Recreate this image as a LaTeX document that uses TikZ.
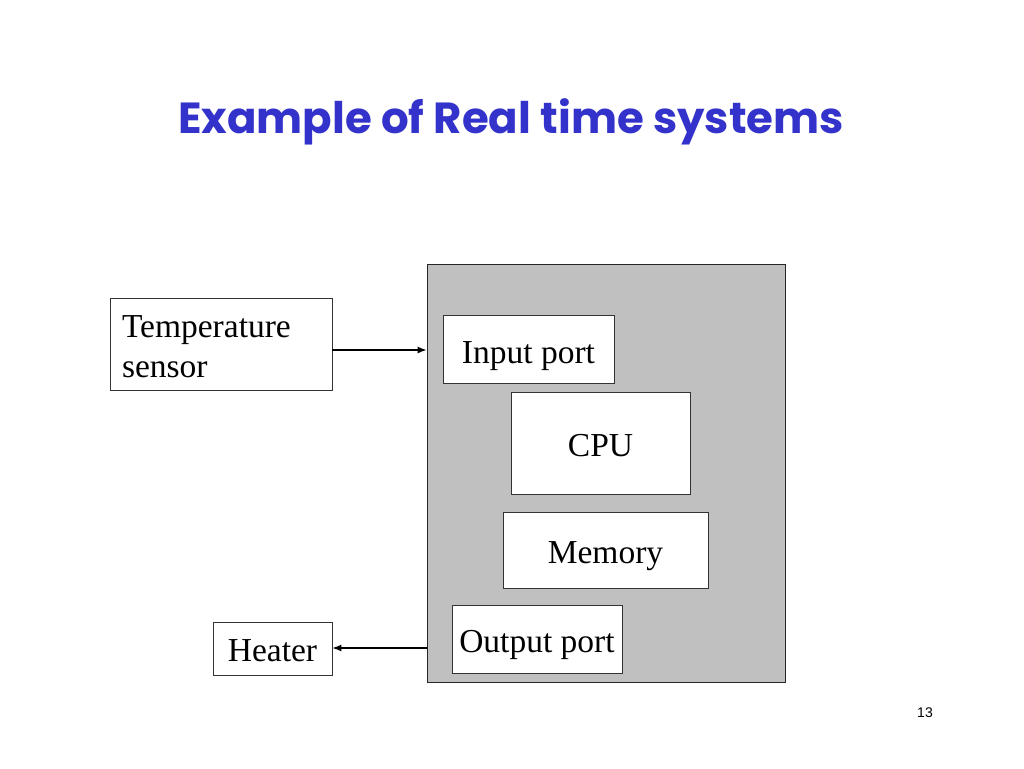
\documentclass[tikz,border=0pt]{standalone}
\usepackage{fontspec}
\setmainfont{Liberation Serif}
\newfontfamily\titlefont{Poppins}
\newfontfamily\numfont{Liberation Sans}
\usetikzlibrary{arrows.meta}
\definecolor{titleblue}{RGB}{51,51,204}
\definecolor{panelgray}{RGB}{192,192,192}
\newcommand{\lowertext}[2]{\raisebox{-#1}[\height][\depth]{#2}}
\tikzset{
  box/.style={draw=black!80, line width=0.9pt, fill=white, inner sep=0pt,
    font=\fontsize{33.5}{40}\selectfont},
  conn/.style={line width=1.1pt, -{Latex[length=9pt,width=7pt]}}
}
\begin{document}
\begin{tikzpicture}[x=1pt,y=-1pt]
\useasboundingbox (0,0) rectangle (1024,768);
\node[font=\titlefont\bfseries\fontsize{43.5}{52}\selectfont, text=titleblue] (title) at (511,122) {Example of Real time systems};
\node[draw=black!85, line width=0.9pt, fill=panelgray, minimum width=358pt, minimum height=418pt, inner sep=0pt] (panel) at (606,473) {};
\node[box, minimum width=222pt, minimum height=92pt] (sensor) at (221,344) {\lowertext{3pt}{\parbox{198pt}{Temperature\\sensor}}};
\node[box, minimum width=171pt, minimum height=68pt] (inport) at (528.5,349) {\lowertext{7pt}{Input port}};
\node[box, minimum width=179pt, minimum height=102pt] (cpu) at (600.5,443) {\lowertext{3pt}{CPU}};
\node[box, minimum width=205pt, minimum height=76pt] (mem) at (605.5,550) {\lowertext{6pt}{Memory}};
\node[box, minimum width=170pt, minimum height=68pt] (outport) at (537,639) {\lowertext{6pt}{Output port}};
\node[box, minimum width=119pt, minimum height=53pt] (heater) at (272.5,648.5) {\lowertext{2pt}{Heater}};
\node[font=\numfont\fontsize{14}{16}\selectfont] (page) at (925,713) {13};
\draw[conn] (sensor.east |- 0,350) -- (panel.west |- 0,350);
\draw[conn] (panel.west |- 0,648) -- (heater.east |- 0,648);
\end{tikzpicture}
\end{document}
